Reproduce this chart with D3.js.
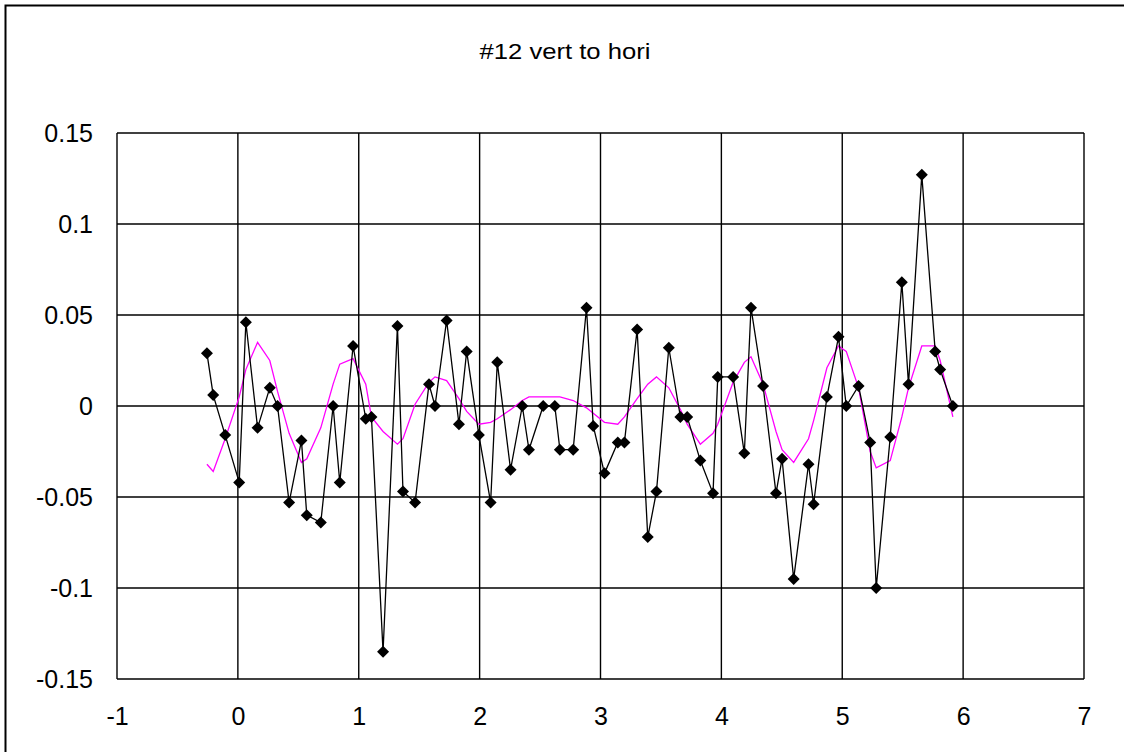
<!DOCTYPE html>
<html>
<head>
<meta charset="utf-8">
<script src="https://cdn.jsdelivr.net/npm/d3@7"></script>
<style>
  html, body { margin: 0; padding: 0; background: #fff; }
  svg { display: block; }
  text { font-family: "Liberation Sans", Arial, sans-serif; fill: #000; }
</style>
</head>
<body>
<svg id="chart" width="1124" height="752"></svg>
<script>
// Measured series (x, y) plotted with diamond markers
const measX = [-0.256, -0.204, -0.105, 0.011, 0.066, 0.163, 0.264, 0.328, 0.424, 0.526,
  0.570, 0.686, 0.788, 0.843, 0.953, 1.058, 1.105, 1.201, 1.320, 1.366,
  1.466, 1.581, 1.631, 1.727, 1.829, 1.893, 1.994, 2.091, 2.146, 2.256,
  2.353, 2.408, 2.526, 2.622, 2.664, 2.774, 2.884, 2.940, 3.033, 3.143,
  3.198, 3.303, 3.391, 3.463, 3.565, 3.661, 3.717, 3.826, 3.931, 3.970,
  4.097, 4.190, 4.245, 4.345, 4.452, 4.502, 4.598, 4.721, 4.763, 4.873,
  4.969, 5.033, 5.135, 5.231, 5.281, 5.397, 5.493, 5.548, 5.658, 5.769,
  5.810, 5.915];
const measY = [0.029, 0.006, -0.016, -0.042, 0.046, -0.012, 0.010, 0.000, -0.053, -0.019,
  -0.060, -0.064, 0.000, -0.042, 0.033, -0.007, -0.006, -0.135, 0.044, -0.047,
  -0.053, 0.012, 0.000, 0.047, -0.010, 0.030, -0.016, -0.053, 0.024, -0.035,
  0.000, -0.024, 0.000, 0.000, -0.024, -0.024, 0.054, -0.011, -0.037, -0.020,
  -0.020, 0.042, -0.072, -0.047, 0.032, -0.006, -0.006, -0.030, -0.048, 0.016,
  0.016, -0.026, 0.054, 0.011, -0.048, -0.029, -0.095, -0.032, -0.054, 0.005,
  0.038, 0.000, 0.011, -0.020, -0.100, -0.017, 0.068, 0.012, 0.127, 0.030,
  0.020, 0.000];

// Smoothed series (magenta line, no markers)
const smoothY = [-0.032, -0.036, -0.018, 0.005, 0.020, 0.035, 0.025, 0.008, -0.015, -0.031,
  -0.029, -0.012, 0.012, 0.023, 0.026, 0.012, -0.006, -0.014, -0.021, -0.018,
  0.001, 0.013, 0.016, 0.014, 0.004, -0.003, -0.010, -0.009, -0.007, -0.002,
  0.003, 0.005, 0.005, 0.005, 0.005, 0.003, -0.001, -0.004, -0.009, -0.010,
  -0.006, 0.004, 0.012, 0.016, 0.010, -0.002, -0.010, -0.021, -0.015, -0.010,
  0.013, 0.024, 0.027, 0.012, -0.014, -0.024, -0.031, -0.018, -0.008, 0.021,
  0.033, 0.030, 0.010, -0.025, -0.034, -0.030, -0.006, 0.010, 0.033, 0.033,
  0.025, -0.006];

const xTicks = [-1, 0, 1, 2, 3, 4, 5, 6, 7];
const xTickLabels = ["-1", "0", "1", "2", "3", "4", "5", "6", "7"];
const yTicks = [-0.15, -0.1, -0.05, 0, 0.05, 0.1, 0.15];
const yTickLabels = ["-0.15", "-0.1", "-0.05", "0", "0.05", "0.1", "0.15"];
const chartTitle = "#12 vert to hori";

const svg = d3.select("#chart");
const plot = { left: 117, right: 1084, top: 133, bottom: 679 };

const x = d3.scaleLinear().domain([-1, 7]).range([plot.left, plot.right]);
const y = d3.scaleLinear().domain([-0.15, 0.15]).range([plot.bottom, plot.top]);

svg.append("rect").attr("width", 1124).attr("height", 752).attr("fill", "#fff");

// outer chart frame (extends past the right and bottom edges)
svg.append("path")
  .attr("d", "M5.5,760 V5.5 H1130")
  .attr("fill", "none").attr("stroke", "#000").attr("stroke-width", 2);

svg.append("text")
  .attr("x", 565).attr("y", 59)
  .attr("text-anchor", "middle")
  .attr("font-size", 22)
  .attr("textLength", 171)
  .attr("lengthAdjust", "spacingAndGlyphs")
  .text(chartTitle);

// gridlines
const grid = svg.append("g").attr("stroke", "#000").attr("stroke-width", 1.4);
grid.selectAll("line.v").data(xTicks).join("line")
  .attr("x1", d => x(d)).attr("x2", d => x(d))
  .attr("y1", plot.top).attr("y2", plot.bottom);
grid.selectAll("line.h").data(yTicks).join("line")
  .attr("x1", plot.left).attr("x2", plot.right)
  .attr("y1", d => y(d)).attr("y2", d => y(d));

// tick labels via d3 axes with the domain line removed
const xAxis = svg.append("g")
  .attr("transform", `translate(0,${plot.bottom})`)
  .call(d3.axisBottom(x).tickValues(xTicks).tickSize(0).tickPadding(28)
    .tickFormat((d, i) => xTickLabels[i]));
xAxis.select(".domain").remove();
xAxis.selectAll("text").attr("font-size", 25).attr("font-family", "Liberation Sans, Arial, sans-serif").attr("fill", "#000");

const yAxis = svg.append("g")
  .attr("transform", `translate(${plot.left},0)`)
  .call(d3.axisLeft(y).tickValues(yTicks).tickSize(0).tickPadding(24)
    .tickFormat((d, i) => yTickLabels[i]));
yAxis.select(".domain").remove();
yAxis.selectAll("text").attr("font-size", 25).attr("font-family", "Liberation Sans, Arial, sans-serif").attr("fill", "#000");

const measured = measX.map((v, i) => ({ x: v, y: measY[i] }));
const smoothed = measX.map((v, i) => ({ x: v, y: smoothY[i] }));

const line = d3.line().x(d => x(d.x)).y(d => y(d.y));

svg.append("path").datum(smoothed)
  .attr("d", line).attr("fill", "none")
  .attr("stroke", "#ff00ff").attr("stroke-width", 1.3);

svg.append("path").datum(measured)
  .attr("d", line).attr("fill", "none")
  .attr("stroke", "#000").attr("stroke-width", 1.3);

const r = 6;
svg.append("g").selectAll("path").data(measured).join("path")
  .attr("transform", d => `translate(${x(d.x)},${y(d.y)})`)
  .attr("d", `M0,${-r} L${r},0 L0,${r} L${-r},0 Z`)
  .attr("fill", "#000");
</script>
</body>
</html>
